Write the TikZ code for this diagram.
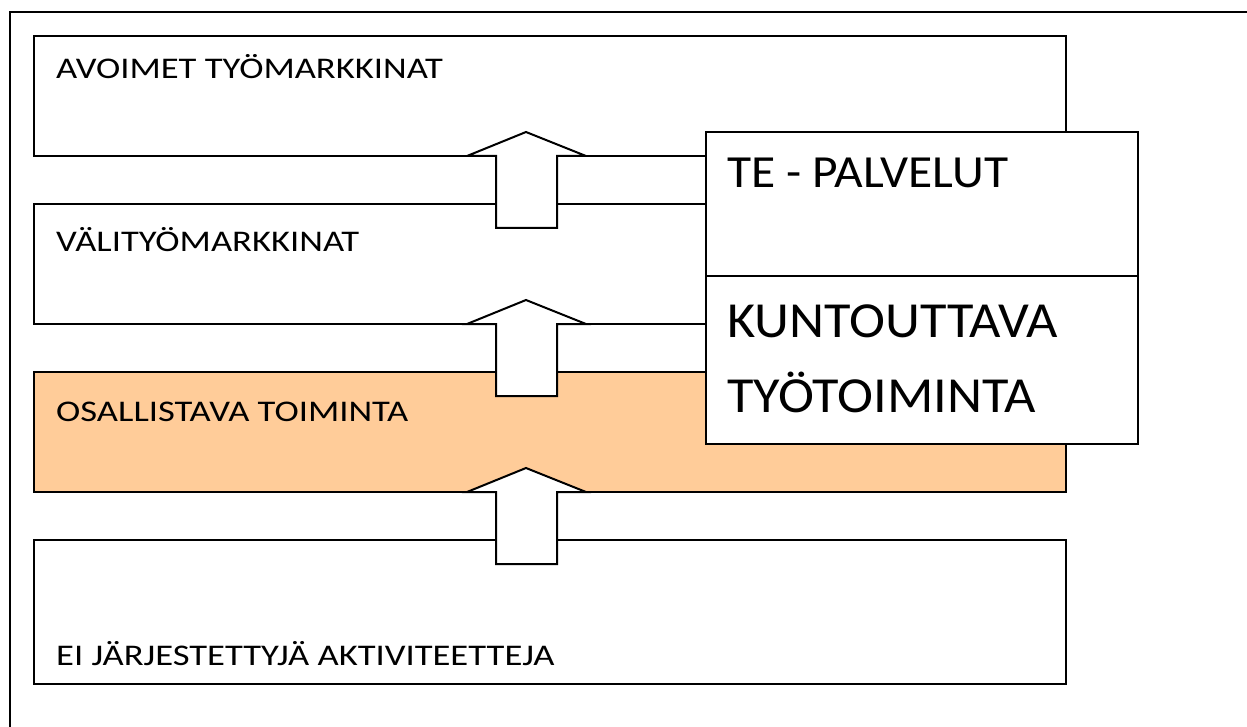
\documentclass[tikz,border=0pt]{standalone}
\usepackage{fontspec}
\setmainfont{Carlito}
\definecolor{peach}{RGB}{255,204,153}
\newcommand{\smalltxt}[1]{\scalebox{1.22}[1]{\fontsize{30}{36}\selectfont #1}}
\newcommand{\bigtxt}[1]{\scalebox{1.075}[1]{\fontsize{50.5}{60}\selectfont #1}}
\begin{document}
\begin{tikzpicture}[x=1pt,y=-1pt,
  box/.style={draw=black,line width=2pt,fill=white,rectangle,anchor=north west,inner sep=0pt,outer sep=0pt},
  lbl/.style={anchor=base west,inner sep=0pt},
  uparrow/.style={draw=black,line width=2pt,fill=white,line join=miter}]
\useasboundingbox (0,0) rectangle (1247,727);
\fill[white] (0,0) rectangle (1247,727);
% outer frame (top and left only)
\draw[line width=2pt] (10,728) -- (10,12) -- (1248,12);
% level boxes
\node[box,minimum width=1032pt,minimum height=120pt] (b1) at (34,36) {};
\node[box,minimum width=1032pt,minimum height=120pt] (b2) at (34,204) {};
\node[box,fill=peach,minimum width=1032pt,minimum height=120pt] (b3) at (34,372) {};
\node[box,minimum width=1032pt,minimum height=144pt] (b4) at (34,540) {};
\node[lbl] (t1) at (56,79) {\smalltxt{AVOIMET TYÖMARKKINAT}};
\node[lbl] (t2) at (56,252) {\smalltxt{VÄLITYÖMARKKINAT}};
\node[lbl] (t3) at (56,421) {\smalltxt{OSALLISTAVA TOIMINTA}};
\node[lbl] (t4) at (56,665) {\smalltxt{EI JÄRJESTETTYJÄ AKTIVITEETTEJA}};
% arrows
\foreach \y in {156,324,492}{
  \draw[uparrow] (467,\y) -- (526,\y-24) -- (586,\y) -- (557,\y) -- (557,\y+72) -- (496,\y+72) -- (496,\y) -- cycle;
}
% service boxes
\node[box,minimum width=432pt,minimum height=144pt] (te) at (706,132) {};
\node[box,minimum width=432pt,minimum height=168pt] (kt) at (706,276) {};
\node[lbl] (tte) at (727,188) {\scalebox{1.075}[1]{\fontsize{46}{56}\selectfont TE - PALVELUT}};
\node[lbl] (tkt1) at (727,337) {\bigtxt{KUNTOUTTAVA}};
\node[lbl] (tkt2) at (727,412) {\bigtxt{TYÖTOIMINTA}};
\end{tikzpicture}
\end{document}
